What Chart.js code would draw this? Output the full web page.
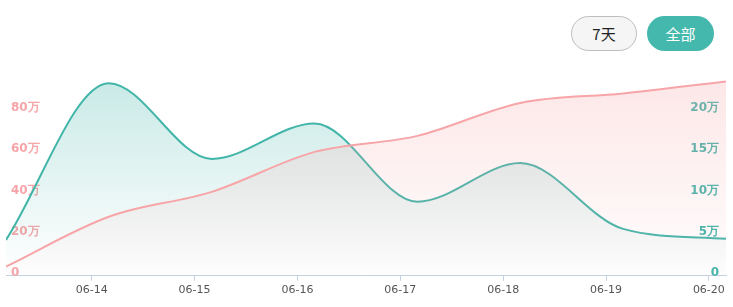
<!DOCTYPE html>
<html><head><meta charset="utf-8">
<script src="https://cdn.jsdelivr.net/npm/chart.js@4/dist/chart.umd.min.js"></script>
<style>
html,body{margin:0;padding:0;background:#fff;}
#wrap{position:relative;width:733px;height:307px;overflow:hidden;}
canvas{position:absolute;left:0;top:0;}
.btn{position:absolute;top:16px;height:35px;box-sizing:border-box;border-radius:18px;font:15px "Noto Sans CJK SC",sans-serif;display:flex;align-items:center;justify-content:center;}
#b7{left:571px;width:66px;border:1px solid #bdbdbd;background:#f5f5f5;color:#222;}
#ball{left:647px;width:67px;background:#45b8ad;color:#fff;}
</style></head>
<body>
<div id="wrap">
<canvas id="c" width="733" height="307"></canvas>
<div class="btn" id="b7">7天</div>
<div class="btn" id="ball">全部</div>
</div>
<script>
// data timestamps (MM-DD HH:mm)
const categories = ['06-13 04:00','06-14 04:00','06-15 04:00','06-16 04:00','06-17 04:00','06-18 04:00','06-19 04:00','06-20 04:00'];
// pink series (left axis)
const pinkValues = [45000, 287000, 408000, 602000, 680000, 840000, 886000, 944000];
// teal series (right axis)
const tealValues = [43600, 234000, 142000, 185000, 90000, 137000, 57000, 45000];
// x-axis tick labels
const tickLabels = ['06-14','06-15','06-16','06-17','06-18','06-19','06-20'];

const toDay = s => parseInt(s.slice(3,5),10) + parseInt(s.slice(6,8),10)/24 + parseInt(s.slice(9,11),10)/1440;
const xs = categories.map(toDay);
const tickDays = tickLabels.map(s => parseInt(s.slice(3,5),10));

function grad(ctx, rgb, a0, a1){
  const chart = ctx.chart, ca = chart.chartArea;
  if(!ca) return 'rgba(' + rgb + ',' + a0 + ')';
  const g = chart.ctx.createLinearGradient(0, ca.top, 0, ca.bottom);
  g.addColorStop(0, 'rgba(' + rgb + ',' + a0 + ')');
  g.addColorStop(1, 'rgba(' + rgb + ',' + a1 + ')');
  return g;
}
const wan = (max) => (v) => v === 0 ? '0' : (v >= max ? '' : (v/10000) + '万');
const TEAL = '#42b5a9', PINK = '#f7a5a8';

new Chart(document.getElementById('c'), {
  type: 'line',
  data: {
    datasets: [
      {
        label: 'pink', yAxisID: 'yL',
        data: xs.map((x,i) => ({x, y: pinkValues[i]})),
        borderColor: PINK, borderWidth: 2, pointRadius: 0,
        cubicInterpolationMode: 'monotone', fill: 'origin',
        backgroundColor: ctx => grad(ctx, '247,165,168', 0.28, 0.02)
      },
      {
        label: 'teal', yAxisID: 'yR',
        data: xs.map((x,i) => ({x, y: tealValues[i]})),
        borderColor: TEAL, borderWidth: 2, pointRadius: 0,
        cubicInterpolationMode: 'monotone', fill: 'origin',
        backgroundColor: ctx => grad(ctx, '66,181,169', 0.3, 0.0)
      }
    ]
  },
  options: {
    responsive: false, animation: false, devicePixelRatio: 1,
    layout: { padding: { left: 6, right: 7, top: 70, bottom: 7 } },
    plugins: { legend: { display: false }, tooltip: { enabled: false } },
    scales: {
      x: {
        type: 'linear', min: xs[0], max: xs[xs.length-1],
        afterBuildTicks: s => { s.ticks = tickDays.map(v => ({value: v})); },
        ticks: {
          autoSkip: false, maxRotation: 0, padding: 3, color: '#555',
          font: { family: 'DejaVu Sans', size: 11 },
          callback: (v) => { const i = tickDays.indexOf(v); return i >= 0 ? tickLabels[i] : ''; }
        },
        grid: { display: true, drawOnChartArea: false, drawTicks: true, tickLength: 5, color: '#c3d1e0' },
        border: { display: true, color: '#c3d1e0', width: 1 }
      },
      yL: {
        position: 'left', min: 0, max: 1000000,
        afterFit: s => { s.width = 0; },
        ticks: { stepSize: 200000, mirror: true, padding: 5, labelOffset: -3, color: PINK,
          font: { family: 'DejaVu Sans', size: 12, weight: 'bold' }, callback: wan(1000000) },
        grid: { display: false, drawTicks: false }, border: { display: false }
      },
      yR: {
        position: 'right', min: 0, max: 250000,
        afterFit: s => { s.width = 0; },
        ticks: { stepSize: 50000, mirror: true, padding: -7, labelOffset: -3, color: TEAL,
          font: { family: 'DejaVu Sans', size: 12, weight: 'bold' }, callback: wan(250000) },
        grid: { display: false, drawTicks: false }, border: { display: false }
      }
    }
  }
});
</script>
</body></html>
